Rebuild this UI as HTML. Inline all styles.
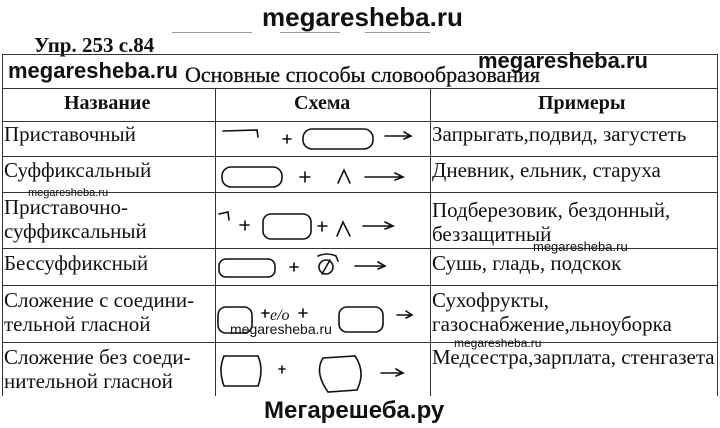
<!DOCTYPE html>
<html><head><meta charset="utf-8"><style>
body{margin:0;width:720px;height:428px;background:#fff;position:relative;overflow:hidden;font-family:"Liberation Serif","Noto Serif CJK SC",serif;color:#111}
.a{position:absolute;white-space:nowrap}
.h{position:absolute;background:#333;height:1px}
.v{position:absolute;background:#333;width:1px}
.wm{font-family:"Liberation Sans",sans-serif;font-weight:bold}
.t{font-size:21px;line-height:24px;letter-spacing:0}
</style></head><body>
<div class="a wm" style="left:262px;top:2px;font-size:26px">megaresheba.ru</div>
<div class="h" style="left:172px;top:32px;width:80px;background:#999"></div>
<div class="h" style="left:280px;top:32px;width:60px;background:#999"></div>
<div class="h" style="left:365px;top:32px;width:65px;background:#999"></div>
<div class="a" style="left:34px;top:33px;font-size:21px;font-weight:bold">Упр. 253 с.84</div>
<div class="h" style="left:2px;top:54px;width:716px"></div>
<div class="h" style="left:2px;top:88px;width:716px"></div>
<div class="h" style="left:2px;top:121px;width:716px"></div>
<div class="h" style="left:2px;top:156px;width:716px"></div>
<div class="h" style="left:2px;top:192px;width:716px"></div>
<div class="h" style="left:2px;top:248px;width:716px"></div>
<div class="h" style="left:2px;top:285px;width:716px"></div>
<div class="h" style="left:2px;top:342px;width:716px"></div>
<div class="v" style="left:2px;top:54px;height:342px"></div>
<div class="v" style="left:717px;top:54px;height:342px"></div>
<div class="v" style="left:215px;top:88px;height:308px"></div>
<div class="v" style="left:430px;top:88px;height:308px"></div>
<div class="a wm" style="left:8px;top:58px;font-size:22px">megaresheba.ru</div>
<div class="a wm" style="left:478px;top:48px;font-size:22px">megaresheba.ru</div>
<div class="a" style="left:185px;top:62px;font-size:22px;-webkit-text-stroke:0.3px #111">Основные способы словообразования</div>
<div class="a" style="left:64px;top:92px;font-size:20px;font-weight:bold">Название</div>
<div class="a" style="left:294px;top:92px;font-size:20px;font-weight:bold">Схема</div>
<div class="a" style="left:538px;top:92px;font-size:20px;font-weight:bold">Примеры</div>
<div class="a t" style="left:4px;top:122px">Приставочный</div>
<div class="a t" style="left:4px;top:158px">Суффиксальный</div>
<div class="a t" style="left:4px;top:195px">Приставочно-<br>суффиксальный</div>
<div class="a t" style="left:4px;top:251px">Бессуффиксный</div>
<div class="a t" style="left:4px;top:288px">Сложение с соедини-<br>тельной гласной</div>
<div class="a t" style="left:4px;top:345px">Сложение без соеди-<br>нительной гласной</div>
<div class="a t" style="left:432px;top:122px">Запрыгать,подвид, загустеть</div>
<div class="a t" style="left:432px;top:158px">Дневник, ельник, старуха</div>
<div class="a t" style="left:432px;top:198px">Подберезовик, бездонный,<br>беззащитный</div>
<div class="a t" style="left:432px;top:251px">Сушь, гладь, подскок</div>
<div class="a t" style="left:432px;top:288px">Сухофрукты,<br>газоснабжение,льноуборка</div>
<div class="a t" style="left:432px;top:345px">Медсестра,зарплата, стенгазета</div>
<div class="a wm" style="left:28px;top:187px;font-size:11px;font-weight:normal">megaresheba.ru</div>
<div class="a wm" style="left:533px;top:239px;font-size:13px;font-weight:normal">megaresheba.ru</div>
<div class="a wm" style="left:230px;top:321px;font-size:14px;font-weight:normal">megaresheba.ru</div>
<div class="a wm" style="left:454px;top:336px;font-size:12px;font-weight:normal">megaresheba.ru</div>
<svg class="a" style="left:0;top:0" width="720" height="428" fill="none" stroke="#111" stroke-width="1.6" stroke-linecap="round">
<path d="M223 131 L257 130 L258 137"/><path d="M283 139h8M287 135v8"/>
<rect x="303" y="129" width="70" height="20" rx="9"/><path d="M385 136h26M404 132l7 4-7 3"/>
<rect x="222" y="167" width="60" height="20" rx="9"/><path d="M300 177h10M305 172v10"/>
<path d="M338 183 L344 170 L350 183"/><path d="M365 177h38M395 173l8 4-8 3"/>
<path d="M219 214 L228 212 L229 220"/><path d="M240 225h9M245 221v9"/>
<rect x="263" y="214" width="48" height="25" rx="8"/><path d="M318 226h9M322 222v9"/>
<path d="M337 236 L343 222 L350 236"/><path d="M363 226h30M385 222l8 4-8 3"/>
<rect x="219" y="259" width="56" height="18" rx="7"/><path d="M290 267h8M294 263v8"/>
<circle cx="326" cy="267" r="7"/><path d="M322 274l8-14M318 256q9-4 18 0l2 5"/><path d="M355 266h30M378 262l7 4-7 3"/>
<rect x="218" y="307" width="34" height="26" rx="8"/><path d="M262 313h7M265 310v7"/>
<text x="270" y="320" font-family="Liberation Serif" font-style="italic" font-size="16" fill="#111" stroke="none">e/o</text>
<path d="M299 313h8M303 309v8"/><rect x="339" y="307" width="44" height="25" rx="8"/><path d="M397 315h14M406 311l6 4-6 3"/>
<path d="M224 356 L258 356 Q264 370 258 386 L224 386 Q218 370 224 356Z"/><path d="M279 369h6M282 366v7"/>
<path d="M323 358 L355 356 Q366 372 357 390 L328 392 Q314 372 323 358Z"/><path d="M381 373h22M396 369l7 4-7 3"/>
</svg>
<div class="a wm" style="left:264px;top:397px;font-size:24px">Мегарешеба.ру</div>
</body></html>
